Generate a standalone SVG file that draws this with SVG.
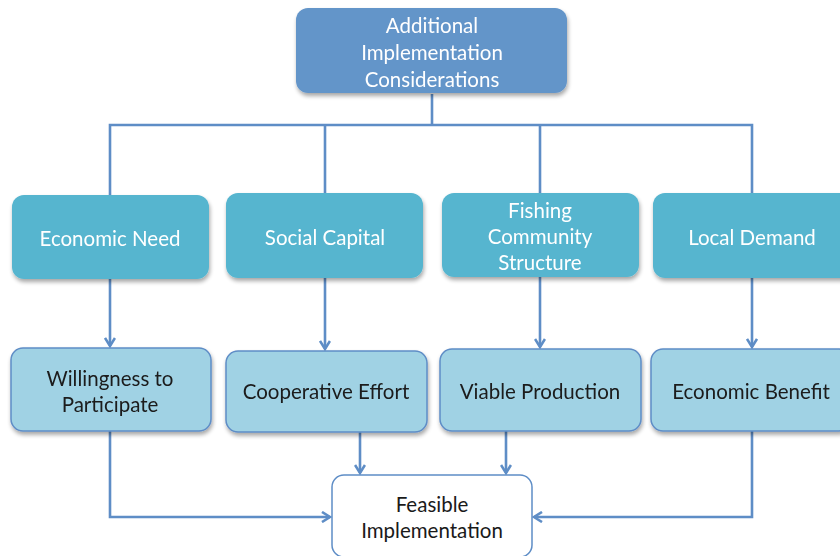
<svg xmlns="http://www.w3.org/2000/svg" width="840" height="556" viewBox="0 0 840 556">
  <defs>
    <filter id="shadow" x="-10%" y="-10%" width="130%" height="140%">
      <feGaussianBlur in="SourceAlpha" stdDeviation="2"/>
      <feOffset dx="1" dy="3" result="b"/>
      <feComponentTransfer><feFuncA type="linear" slope="0.35"/></feComponentTransfer>
      <feMerge><feMergeNode/><feMergeNode in="SourceGraphic"/></feMerge>
    </filter>
    <marker id="arrow" viewBox="0 0 12 12" refX="10" refY="6" markerWidth="12" markerHeight="12" markerUnits="userSpaceOnUse" orient="auto">
      <path d="M2,1 L10,6 L2,11" fill="none" stroke="#5E8DC6" stroke-width="2.6" stroke-linejoin="miter"/>
    </marker>
  </defs>
  <style>
    text { font-family: Lato, "Open Sans", "Liberation Sans", sans-serif; font-size: 20.5px; text-anchor: middle; }
    .top rect { fill: #6495C9; }
    .mid rect { fill: #56B5CF; }
    .low rect { fill: #A0D2E4; stroke: #5E8DC6; stroke-width: 1.5; }
    .end rect { fill: #FFFFFF; stroke: #5E8DC6; stroke-width: 1.5; }
    .top text, .mid text { fill: #FFFFFF; }
    .low text, .end text { fill: #1A1A1A; }
    .conn { fill: none; stroke: #5E8DC6; stroke-width: 2.6; }
  </style>

  <g id="connectors" class="conn">
    <path d="M432,94 V125"/>
    <path d="M110,195 V125 H752 V193"/>
    <path d="M325,125 V193"/>
    <path d="M540,125 V193"/>
    <path d="M110,279 V346" marker-end="url(#arrow)"/>
    <path d="M325,278 V349" marker-end="url(#arrow)"/>
    <path d="M540,277 V347" marker-end="url(#arrow)"/>
    <path d="M752,278 V347" marker-end="url(#arrow)"/>
    <path d="M110,431 V517 H330" marker-end="url(#arrow)"/>
    <path d="M360,432 V473" marker-end="url(#arrow)"/>
    <path d="M506,431 V473" marker-end="url(#arrow)"/>
    <path d="M752,431 V517 H534" marker-end="url(#arrow)"/>
  </g>

  <g id="node-additional" class="top" filter="url(#shadow)">
    <rect x="296" y="8" width="271" height="85" rx="12"/>
    <text x="432" y="33">Additional</text>
    <text x="432" y="60">Implementation</text>
    <text x="432" y="87">Considerations</text>
  </g>

  <g id="node-economic-need" class="mid" filter="url(#shadow)">
    <rect x="12" y="195" width="197" height="84" rx="12"/>
    <text x="110" y="246">Economic Need</text>
  </g>
  <g id="node-social-capital" class="mid" filter="url(#shadow)">
    <rect x="226" y="193" width="197" height="85" rx="12"/>
    <text x="325" y="245">Social Capital</text>
  </g>
  <g id="node-fishing" class="mid" filter="url(#shadow)">
    <rect x="442" y="193" width="197" height="84" rx="12"/>
    <text x="540" y="218">Fishing</text>
    <text x="540" y="244">Community</text>
    <text x="540" y="270">Structure</text>
  </g>
  <g id="node-local-demand" class="mid" filter="url(#shadow)">
    <rect x="653" y="193" width="200" height="85" rx="12"/>
    <text x="752" y="245">Local Demand</text>
  </g>

  <g id="node-willingness" class="low" filter="url(#shadow)">
    <rect x="11" y="348" width="200" height="83" rx="12"/>
    <text x="110" y="386">Willingness to</text>
    <text x="110" y="412">Participate</text>
  </g>
  <g id="node-cooperative" class="low" filter="url(#shadow)">
    <rect x="226" y="351" width="201" height="81" rx="12"/>
    <text x="326" y="399">Cooperative Effort</text>
  </g>
  <g id="node-viable" class="low" filter="url(#shadow)">
    <rect x="440" y="349" width="201" height="82" rx="12"/>
    <text x="540" y="399">Viable Production</text>
  </g>
  <g id="node-economic-benefit" class="low" filter="url(#shadow)">
    <rect x="651" y="349" width="200" height="82" rx="12"/>
    <text x="751" y="399">Economic Benefit</text>
  </g>

  <g id="node-feasible" class="end">
    <rect x="332" y="475" width="200" height="82" rx="12"/>
    <text x="432" y="512">Feasible</text>
    <text x="432" y="538">Implementation</text>
  </g>
</svg>
